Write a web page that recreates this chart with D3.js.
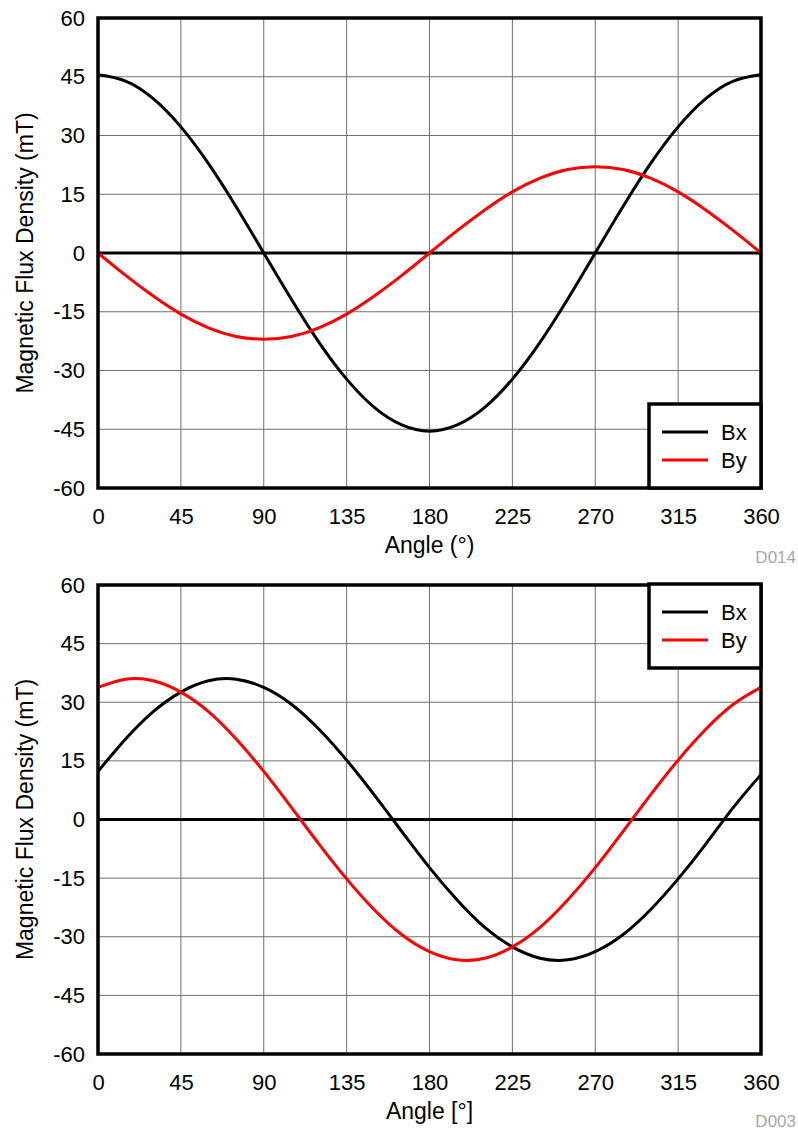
<!DOCTYPE html>
<html><head><meta charset="utf-8">
<script src="https://cdn.jsdelivr.net/npm/d3@7"></script>
<style>body{margin:0;background:#fff}svg{display:block}text{font-family:"Liberation Sans",Arial,sans-serif}</style>
</head><body>
<script>
const angles = [0,15,30,45,60,75,90,105,120,135,150,165,180,195,210,225,240,255,270,285,300,315,330,345,360];
const xTicks = [0,45,90,135,180,225,270,315,360];
const yTicks = [-60,-45,-30,-15,0,15,30,45,60];
const seriesNames = ["Bx","By"];
const seriesColors = ["#000000","#ff0000"];
// Top chart (D014)
const bx1 = [45.5,43.9,39.4,32.2,22.8,11.8,0,-11.8,-22.8,-32.2,-39.4,-43.9,-45.5,-43.9,-39.4,-32.2,-22.8,-11.8,0,11.8,22.8,32.2,39.4,43.9,45.5];
const by1 = [0,-5.7,-11,-15.6,-19.1,-21.3,-22,-21.3,-19.1,-15.6,-11,-5.7,0,5.7,11,15.6,19.1,21.3,22,21.3,19.1,15.6,11,5.7,0];
// Bottom chart (D003)
const bx2 = [12.3,20.6,27.6,32.6,35.5,35.9,33.8,29.5,23.1,15.2,6.3,-3.1,-12.3,-20.6,-27.6,-32.6,-35.5,-35.9,-33.8,-29.5,-23.1,-15.2,-6.3,3.1,11.5];
const by2 = [33.8,35.9,35.5,32.6,27.6,20.6,12.3,3.1,-6.3,-15.2,-23.1,-29.5,-33.8,-35.9,-35.5,-32.6,-27.6,-20.6,-12.3,-3.1,6.3,15.2,23.1,29.5,33.8];

const W=798,H=1131;
const FONT="Liberation Sans, Arial, sans-serif";
const svg=d3.select("body").append("svg").attr("width",W).attr("height",H);

function chart(top, bottom, bx, by, xTitle, code, codeY, legendTop){
  const x=d3.scaleLinear().domain([0,360]).range([98,761]);
  const y=d3.scaleLinear().domain([-60,60]).range([bottom,top]);
  const g=svg.append("g");
  g.selectAll(".vg").data(xTicks.slice(1,-1)).join("line")
    .attr("x1",d=>x(d)).attr("x2",d=>x(d)).attr("y1",top).attr("y2",bottom)
    .attr("stroke","#707070").attr("stroke-width",1);
  g.selectAll(".hg").data(yTicks.slice(1,-1).filter(d=>d!==0)).join("line")
    .attr("y1",d=>y(d)).attr("y2",d=>y(d)).attr("x1",x(0)).attr("x2",x(360))
    .attr("stroke","#707070").attr("stroke-width",1);
  g.append("line").attr("x1",x(0)).attr("x2",x(360)).attr("y1",y(0)).attr("y2",y(0))
    .attr("stroke","#000").attr("stroke-width",3);
  const line=d3.line().x((d,i)=>x(angles[i])).y(d=>y(d)).curve(d3.curveNatural);
  [bx,by].forEach((s,i)=>{
    g.append("path").attr("d",line(s)).attr("fill","none")
      .attr("stroke",seriesColors[i]).attr("stroke-width",3);
  });
  g.append("rect").attr("x",x(0)).attr("y",top).attr("width",x(360)-x(0)).attr("height",bottom-top)
    .attr("fill","none").attr("stroke","#000").attr("stroke-width",3.5);
  const fmt=d=>String(d);
  const xa=d3.axisBottom(x).tickValues(xTicks).tickFormat(fmt).tickSize(0).tickPadding(20);
  g.append("g").attr("transform",`translate(0,${bottom})`).call(xa)
    .call(a=>a.select(".domain").remove())
    .selectAll("text").attr("font-size",22).attr("fill","#000").attr("font-family",FONT);
  const ya=d3.axisLeft(y).tickValues(yTicks).tickFormat(fmt).tickSize(0).tickPadding(13);
  g.append("g").attr("transform",`translate(${x(0)},0)`).call(ya)
    .call(a=>a.select(".domain").remove())
    .selectAll("text").attr("font-size",22).attr("fill","#000").attr("font-family",FONT);
  g.append("text").attr("x",(x(0)+x(360))/2).attr("y",bottom+65).attr("text-anchor","middle")
    .attr("font-size",23).text(xTitle);
  g.append("text").attr("transform",`translate(33,${(top+bottom)/2}) rotate(-90)`).attr("text-anchor","middle")
    .attr("font-size",23).text("Magnetic Flux Density (mT)");
  g.append("text").attr("x",796).attr("y",codeY).attr("text-anchor","end")
    .attr("font-size",17).attr("fill","#a8a8a8").text(code);
  const lx=649, lw=x(360)-lx, lh=84;
  const lg=g.append("g");
  lg.append("rect").attr("x",lx).attr("y",legendTop).attr("width",lw).attr("height",lh)
    .attr("fill","#fff").attr("stroke","#000").attr("stroke-width",3.5);
  seriesNames.forEach((n,i)=>{
    const yy=legendTop+28+i*28;
    lg.append("line").attr("x1",662).attr("x2",708).attr("y1",yy).attr("y2",yy)
      .attr("stroke",seriesColors[i]).attr("stroke-width",3);
    lg.append("text").attr("x",721).attr("y",yy+8).attr("font-size",22).text(n);
  });
}
chart(18,488,bx1,by1,"Angle (°)","D014",563,404);
chart(585,1054,bx2,by2,"Angle [°]","D003",1127,584);
</script>
</body></html>
